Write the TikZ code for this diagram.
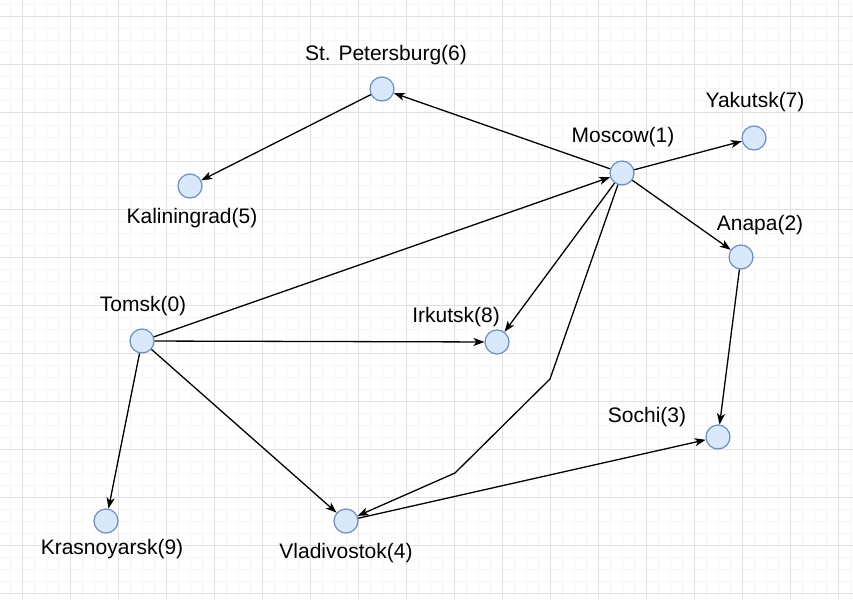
\documentclass[tikz,border=0pt]{standalone}
\usepackage{fontspec}
\setmainfont{Liberation Sans}
\usetikzlibrary{arrows.meta}
\definecolor{nodefill}{HTML}{DAE8FC}
\definecolor{nodeline}{HTML}{6C8EBF}
\definecolor{gridminor}{HTML}{F6F6F6}
\definecolor{gridmajor}{HTML}{E0E0E0}
\tikzset{
  city/.style={circle, draw=nodeline, fill=nodefill, line width=1.2pt, minimum size=24pt, inner sep=0pt},
  lbl/.style={font=\fontsize{21}{24}\selectfont, inner sep=0pt},
  edge/.style={draw=black, line width=1.3pt, -{Stealth[length=11pt,width=8pt,inset=3pt]}, line join=round},
}
\begin{document}
\begin{tikzpicture}[x=1pt,y=-1pt]
\useasboundingbox (0,0) rectangle (853,599);
\fill[white] (0,0) rectangle (853,599);
% grid
\foreach \gx in {10,22,...,850} \draw[gridminor, line width=1pt] (\gx,0) -- (\gx,599);
\foreach \gy in {5,17,...,598} \draw[gridminor, line width=1pt] (0,\gy) -- (853,\gy);
\foreach \gx in {22,70,...,850} \draw[gridmajor, line width=1pt] (\gx,0) -- (\gx,599);
\foreach \gy in {17,65,...,598} \draw[gridmajor, line width=1pt] (0,\gy) -- (853,\gy);
% nodes
\node[city] (tomsk) at (142,341) {};
\node[city] (moscow) at (622,173) {};
\node[city] (anapa) at (741,257) {};
\node[city] (sochi) at (718,437) {};
\node[city] (vlad) at (346,521) {};
\node[city] (kalin) at (190,186) {};
\node[city] (spb) at (382,89) {};
\node[city] (yak) at (754,138) {};
\node[city] (irk) at (497,342) {};
\node[city] (kras) at (106,521) {};
% labels
\node[lbl] (ltomsk) at (143,306) {Tomsk(0)};
\node[lbl] (lmoscow) at (623,137) {Moscow(1)};
\node[lbl] (lanapa) at (760,225) {Anapa(2)};
\node[lbl] (lsochi) at (647,417) {Sochi(3)};
\node[lbl] (lvlad) at (346,553) {Vladivostok(4)};
\node[lbl] (lkalin) at (192,218) {Kaliningrad(5)};
\node[lbl] (lspb) at (386,55) {St. Petersburg(6)};
\node[lbl] (lyak) at (755,102) {Yakutsk(7)};
\node[lbl] (lirk) at (456,317) {Irkutsk(8)};
\node[lbl] (lkras) at (112,549) {Krasnoyarsk(9)};
% waypoints
\coordinate (w1) at (550,379);
\coordinate (w2) at (455,473);
% edges
\draw[edge] (spb) -- (kalin);
\draw[edge] (moscow) -- (spb);
\draw[edge] (moscow) -- (yak);
\draw[edge] (moscow) -- (anapa);
\draw[edge] (moscow) -- (irk);
\draw[edge] (moscow) -- (w1) -- (w2) -- (vlad);
\draw[edge] (tomsk) -- (moscow);
\draw[edge] (tomsk) -- (irk);
\draw[edge] (tomsk) -- (vlad);
\draw[edge] (tomsk) -- (kras);
\draw[edge] (anapa) -- (sochi);
\draw[edge] (vlad) -- (sochi);
\end{tikzpicture}
\end{document}
